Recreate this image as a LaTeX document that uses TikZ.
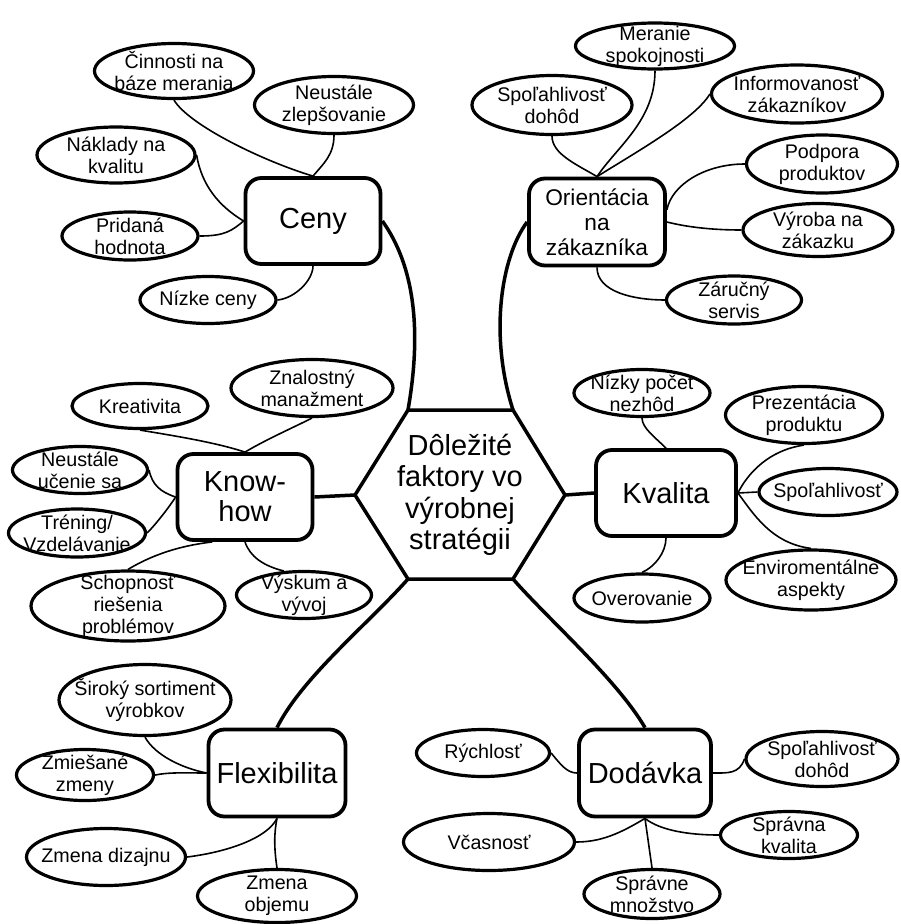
\documentclass[tikz,border=0pt]{standalone}
\usepackage{fontspec}
\setmainfont{Liberation Sans}
\usetikzlibrary{shapes.geometric}
\newcommand\leafnode[6]{%
  \node[ell, minimum width=#4pt, minimum height=#5pt] (#1) at (#2,#3) {};
  \node[etxt] (#1-t) at (#1.center) {#6};}
\begin{document}
\begin{tikzpicture}[x=1pt,y=-1pt,
  ell/.style={draw, ellipse, line width=3.2pt, inner sep=0pt},
  etxt/.style={align=center, font=\fontsize{19.7}{22}\selectfont, inner sep=0pt},
  bigbox/.style={draw, rectangle, rounded corners=16pt, line width=3.8pt, inner sep=0pt,
     align=center, font=\fontsize{29}{30.5}\selectfont},
  twig/.style={line width=1.6pt},
  trunk/.style={line width=3.5pt},
  hexline/.style={line width=3.5pt, line join=miter}]
\useasboundingbox (0,0) rectangle (901,924);

% hexagon
\coordinate (hL) at (355,495);
\coordinate (hTL) at (408,410);
\coordinate (hTR) at (513,410);
\coordinate (hR) at (565,495);
\coordinate (hBR) at (513,579);
\coordinate (hBL) at (408,579);
\draw[hexline] (hL) -- (hTL) -- (hTR) -- (hR) -- (hBR) -- (hBL) -- cycle;
\node[align=center, font=\fontsize{29}{31.5}\selectfont, inner sep=0pt] (core) at (460,495)
  {Dôležité\\faktory vo\\výrobnej\\stratégii};

% main boxes
\node[bigbox, minimum width=135pt, minimum height=86pt] (ceny) at (313,221) {Ceny};
\node[bigbox, minimum width=136pt, minimum height=87pt, font=\fontsize{22.7}{25}\selectfont] (orient) at (597,222) {Orientácia\\na\\zákazníka};
\node[bigbox, minimum width=135pt, minimum height=86pt, font=\fontsize{29}{30}\selectfont] (know) at (245,497) {Know-\\how};
\node[bigbox, minimum width=140pt, minimum height=86pt] (kval) at (666,493) {Kvalita};
\node[bigbox, minimum width=137pt, minimum height=87pt] (flex) at (277,773) {Flexibilita};
\node[bigbox, minimum width=132pt, minimum height=87pt] (dod) at (645,773) {Dodávka};

% leaves: Ceny
\leafnode{cin}{174}{71}{159}{55}{Činnosti na\\báze merania}
\leafnode{neu}{334}{105}{159}{57}{Neustále\\zlepšovanie}
\leafnode{nak}{116}{155}{158}{56}{Náklady na\\kvalitu}
\leafnode{pri}{130}{236}{136}{48}{Pridaná\\hodnota}
\leafnode{niz}{208}{300}{136}{47}{Nízke ceny}
% leaves: Orientacia
\leafnode{mer}{655}{46}{159}{46}{Meranie\\spokojnosti}
\leafnode{spoa}{552}{105}{160}{59}{Spoľahlivosť\\dohôd}
\leafnode{inf}{797}{94}{171}{58}{Informovanosť\\zákazníkov}
\leafnode{pod}{822}{164}{151}{58}{Podpora\\produktov}
\leafnode{vyr}{818}{230}{150}{53}{Výroba na\\zákazku}
\leafnode{zar}{734}{300}{135}{48}{Záručný\\servis}
% leaves: Know-how
\leafnode{kre}{140}{406}{136}{45}{Kreativita}
\leafnode{zna}{312}{388}{162}{57}{Znalostný\\manažment}
\leafnode{neub}{80}{470}{135}{47}{Neustále\\učenie sa}
\leafnode{tre}{77}{533}{137}{48}{Tréning/\\Vzdelávanie}
\leafnode{sch}{128}{606}{194}{70}{Schopnosť\\riešenia\\problémov}
\leafnode{vys}{304}{595}{135}{47}{Výskum a\\vývoj}
% leaves: Kvalita
\leafnode{nizp}{642}{393}{136}{47}{Nízky počet\\nezhôd}
\leafnode{pre}{804}{415}{157}{57}{Prezentácia\\produktu}
\leafnode{spob}{828}{492}{138}{47}{Spoľahlivosť}
\leafnode{env}{811}{580}{170}{60}{Enviromentálne\\aspekty}
\leafnode{ove}{642}{598}{136}{48}{Overovanie}
% leaves: Flexibilita
\leafnode{sir}{145}{700}{172}{71}{Široký sortiment\\výrobkov}
\leafnode{zmi}{85}{775}{137}{51}{Zmiešané\\zmeny}
\leafnode{diz}{106}{857}{159}{57}{Zmena dizajnu}
\leafnode{obj}{277}{896}{159}{53}{Zmena\\objemu}
% leaves: Dodavka
\leafnode{ryc}{483}{753}{133}{47}{Rýchlosť}
\leafnode{vca}{489}{842}{171}{57}{Včasnosť}
\leafnode{spoc}{822}{759}{152}{55}{Spoľahlivosť\\dohôd}
\leafnode{spk}{789}{835}{137}{47}{Správna\\kvalita}
\leafnode{spm}{652}{894}{136}{49}{Správne\\množstvo}

% trunks
\draw[trunk] (ceny.east) .. controls +(32,45) and +(14,-80) .. (hTL);
\draw[trunk] (orient.west) .. controls +(-26,35) and +(-24,-75) .. (hTR);
\draw[trunk] (know.east) -- (hL);
\draw[trunk] (hR) -- (kval.west);
\draw[trunk] (flex.north) .. controls +(25,-50) and +(-40,45) .. (hBL);
\draw[trunk] (dod.north) .. controls +(-28,-48) and +(35,40) .. (hBR);

% twigs: Ceny
\draw[twig] (cin.south) .. controls +(15,25) and +(-50,-15) .. (ceny.north);
\draw[twig] (neu.south) .. controls +(0,20) and +(10,-12) .. (ceny.north);
\draw[twig] (nak.east) .. controls +(5,30) and +(-25,-15) .. (ceny.west);
\draw[twig] (pri.east) .. controls +(25,0) and +(-12,10) .. (ceny.west);
\draw[twig] (niz.east) .. controls +(18,-2) and +(0,14) .. (ceny.south);
% twigs: Orientacia
\draw[twig] (spoa.south) .. controls +(0,18) and +(-20,-12) .. (orient.north);
\draw[twig] (mer.south) .. controls +(0,50) and +(20,-30) .. (orient.north);
\draw[twig] (inf.west) .. controls +(-15,25) and +(40,-25) .. (orient.north);
\draw[twig] (pod.west) .. controls +(-40,0) and +(5,-25) .. (orient.10);
\draw[twig] (vyr.west) .. controls +(-30,0) and +(20,5) .. (orient.east);
\draw[twig] (zar.west) .. controls +(-30,0) and +(0,25) .. (orient.south);
% twigs: Know-how
\draw[twig] (kre.south) .. controls +(30,5) and +(-30,-10) .. (know.north);
\draw[twig] (zna.south) .. controls +(-20,10) and +(20,-12) .. (know.north);
\draw[twig] (neub.east) .. controls +(3,15) and +(-15,-5) .. (know.west);
\draw[twig] (tre.east) .. controls +(10,-10) and +(-5,8) .. (know.west);
\draw[twig] (sch.north) .. controls +(30,-18) and +(-25,3) .. (know.234);
\draw[twig] (vys.130) .. controls +(-20,-5) and +(5,15) .. (know.south);
% twigs: Kvalita
\draw[twig] (nizp.south) .. controls +(0,10) and +(-10,-10) .. (kval.north);
\draw[twig] (pre.south) .. controls +(-35,5) and +(10,-20) .. (kval.east);
\draw[twig] (spob.west) -- (kval.east);
\draw[twig] (env.north) .. controls +(-40,-5) and +(15,20) .. (kval.east);
\draw[twig] (ove.north) .. controls +(12,-5) and +(0,15) .. (kval.south);
% twigs: Flexibilita
\draw[twig] (sir.south) .. controls +(10,18) and +(-25,-5) .. (flex.west);
\draw[twig] (zmi.east) .. controls +(15,-3) and +(-20,0) .. (flex.west);
\draw[twig] (diz.east) .. controls +(40,-5) and +(-10,20) .. (flex.south);
\draw[twig] (obj.north) .. controls +(-3,-20) and +(-3,15) .. (flex.south);
% twigs: Dodavka
\draw[twig] (ryc.east) .. controls +(10,12) and +(-10,0) .. (dod.west);
\draw[twig] (spoc.west) .. controls +(-5,15) and +(15,0) .. (dod.east);
\draw[twig] (vca.east) .. controls +(25,0) and +(-25,15) .. (dod.south);
\draw[twig] (spm.north) -- (dod.south);
\draw[twig] (spk.west) .. controls +(-30,0) and +(15,12) .. (dod.south);
\end{tikzpicture}
\end{document}
